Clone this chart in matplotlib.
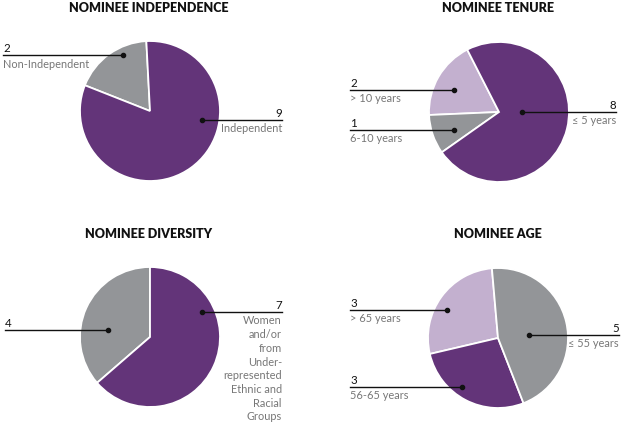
import matplotlib.pyplot as plt

# Colores
morado = '#633479'
gris = '#939598'
lila = '#c3b0cf'

# Datos de cada gráfico
indep_valores = [2, 9]
indep_etiquetas = ['Non-Independent', 'Independent']
indep_colores = [gris, morado]

tenure_valores = [2, 1, 8]
tenure_etiquetas = ['> 10 years', '6-10 years', '≤ 5 years']
tenure_colores = [lila, gris, morado]

divers_valores = [4, 7]
divers_etiquetas = ['', 'Women\nand/or\nfrom\nUnder-\nrepresented\nEthnic and\nRacial\nGroups']
divers_colores = [gris, morado]

edad_valores = [3, 3, 5]
edad_etiquetas = ['> 65 years', '56-65 years', '≤ 55 years']
edad_colores = [lila, morado, gris]

plt.rcParams['font.family'] = ['Lato', 'DejaVu Sans']

W, H = 625, 427
fig = plt.figure(figsize=(W / 100, H / 100), dpi=100)
ax = fig.add_axes([0, 0, 1, 1])


def py(y):
    # coordenada de píxel (desde arriba) a coordenada de datos
    return H - y


def dibujar(titulo, tx, ty, valores, colores, etiquetas, centro, inicio,
            lineas):
    ax.pie(valores, colors=colores, startangle=inicio, counterclock=True,
           center=(centro[0], py(centro[1])), radius=70,
           wedgeprops=dict(edgecolor='white', linewidth=1.3))
    ax.text(tx, py(ty), titulo, ha='center', va='center', fontsize=9,
            fontweight='heavy', color='#111111')
    for i, (xd, yd, xl) in lineas.items():
        ax.plot([xl, xd], [py(yd), py(yd)], color='#111111', lw=1.0)
        ax.plot([xd], [py(yd)], 'o', color='#111111', ms=3)
        ha = 'left' if xl < xd else 'right'
        ax.text(xl, py(yd) + 2, str(valores[i]), ha=ha, va='bottom',
                fontsize=8.3, color='#111111')
        if etiquetas[i]:
            ax.text(xl, py(yd) - 2.5, etiquetas[i], ha=ha, va='top',
                    fontsize=7.9, color='#777777', linespacing=1.3)


dibujar('NOMINEE INDEPENDENCE', 149, 8, indep_valores, indep_colores,
        indep_etiquetas, (150, 112), 93,
        {0: (123, 56, 3), 1: (202, 121, 282)})
dibujar('NOMINEE TENURE', 498, 8, tenure_valores, tenure_colores,
        tenure_etiquetas, (499, 113), 117,
        {0: (454, 91, 350), 1: (454, 131, 350), 2: (522, 113, 616)})
dibujar('NOMINEE DIVERSITY', 149, 234, divers_valores, divers_colores,
        divers_etiquetas, (150, 338), 90,
        {0: (108, 331, 5), 1: (202, 313, 282)})
dibujar('NOMINEE AGE', 498, 234, edad_valores, edad_colores,
        edad_etiquetas, (498, 339), 95,
        {0: (447, 311, 350), 1: (462, 388, 350), 2: (529, 336, 619)})

ax.set_xlim(0, W)
ax.set_ylim(0, H)
ax.set_aspect('auto')
ax.axis('off')

fig.savefig('out.png', dpi=100, facecolor='white')
